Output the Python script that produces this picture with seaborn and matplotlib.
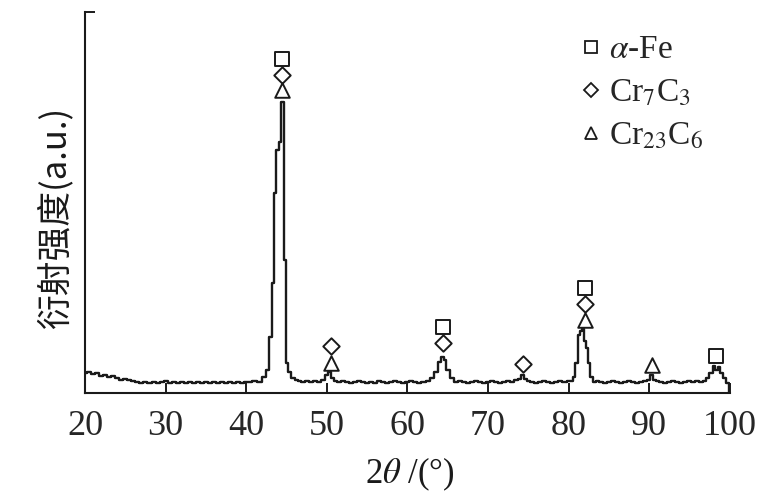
import matplotlib
matplotlib.use("Agg")
import matplotlib.pyplot as plt
import seaborn as sns
import pandas as pd
from matplotlib.lines import Line2D

# XRD pattern (arbitrary intensity units)
two_theta = [
    20.0, 20.5, 21.0, 21.5, 22.0, 22.5, 23.0, 23.5, 24.0, 24.5, 25.0, 25.5,
    26.0, 26.5, 27.0, 27.5, 28.0, 28.5, 29.0, 29.5, 30.0, 30.5, 31.0, 31.5,
    32.0, 32.5, 33.0, 33.5, 34.0, 34.5, 35.0, 35.5, 36.0, 36.5, 37.0, 37.5,
    38.0, 38.5, 39.0, 39.5, 40.0, 40.5, 41.0, 41.7, 42.3, 42.7, 43.0, 43.3,
    43.6, 43.9, 44.2, 44.5, 44.8, 45.0, 45.4, 45.8, 46.2, 46.6, 47.0, 47.5,
    48.0, 48.5, 49.0, 49.5, 50.0, 50.3, 50.7, 51.0, 51.5, 52.0, 52.5, 53.0,
    53.5, 54.0, 54.5, 55.0, 55.5, 56.0, 56.5, 57.0, 57.5, 58.0, 58.5, 59.0,
    59.5, 60.0, 60.5, 61.0, 61.5, 62.0, 62.5, 63.1, 63.6, 64.0, 64.4, 64.7,
    65.0, 65.5, 66.1, 66.5, 67.0, 67.5, 68.0, 68.5, 69.0, 69.5, 70.0, 70.5,
    71.0, 71.5, 72.0, 72.5, 73.0, 73.5, 74.0, 74.3, 74.7, 75.0, 75.5, 76.0,
    76.5, 77.0, 77.5, 78.0, 78.5, 79.0, 79.5, 80.0, 80.4, 80.7, 81.0, 81.3,
    81.6, 81.8, 82.1, 82.3, 82.5, 82.8, 83.2, 83.6, 84.0, 84.5, 85.0, 85.5,
    86.0, 86.5, 87.0, 87.5, 88.0, 88.5, 89.0, 89.5, 89.9, 90.3, 90.7, 91.0,
    91.5, 92.0, 92.5, 93.0, 93.5, 94.0, 94.5, 95.0, 95.5, 96.0, 96.5, 96.9,
    97.2, 97.7, 98.1, 98.3, 98.7, 99.0, 99.4, 99.8, 100.0,
]
intensity = [
    20, 21, 19, 20, 17, 18, 16, 17, 15, 13, 14, 13,
    12, 11, 10, 11, 10, 11, 10, 11, 12, 10, 11, 10,
    11, 10, 11, 10, 11, 10, 11, 10, 11, 10, 11, 10,
    11, 10, 11, 10, 11, 11, 12, 11, 16, 23, 56, 110,
    200, 243, 251, 291, 133, 30, 21, 15, 13, 12, 11, 12,
    11, 12, 11, 13, 18, 21, 15, 12, 11, 12, 11, 10,
    11, 12, 11, 10, 11, 10, 12, 11, 10, 11, 12, 11,
    10, 11, 12, 11, 10, 11, 12, 15, 21, 31, 36, 33,
    23, 15, 11, 12, 11, 10, 11, 12, 11, 10, 11, 12,
    11, 10, 11, 12, 11, 13, 14, 18, 14, 12, 11, 10,
    11, 12, 11, 10, 11, 12, 11, 12, 12, 16, 30, 58,
    62, 64, 52, 45, 30, 16, 11, 12, 11, 10, 11, 12,
    11, 10, 11, 12, 11, 10, 11, 12, 13, 18, 13, 12,
    11, 10, 11, 12, 11, 10, 11, 12, 11, 12, 11, 12,
    15, 20, 27, 23, 26, 20, 15, 10, 1,
]

# peak labels for each phase: position and label height
fe_pos = [44.4, 64.4, 82.0, 98.3]
fe_y = [334, 66, 105, 37]
cr7c3_pos = [44.4, 50.5, 64.4, 74.3, 82.0]
cr7c3_y = [318, 47, 50, 29, 89]
cr23c6_pos = [44.4, 50.5, 82.0, 90.4]
cr23c6_y = [303, 30, 73, 28]

phase_names = [r"$\alpha$-Fe", r"Cr$_{7}$C$_{3}$", r"Cr$_{23}$C$_{6}$"]
x_ticks = [20, 30, 40, 50, 60, 70, 80, 90, 100]

sns.set_theme(style="ticks")
plt.rcParams["font.family"] = ["Liberation Serif", "DejaVu Serif"]
plt.rcParams["mathtext.fontset"] = "stix"

fig = plt.figure(figsize=(7.73, 5.03), dpi=100)
ax = fig.add_axes([0.110, 0.219, 0.834, 0.757])

df = pd.DataFrame({"two_theta": two_theta, "intensity": intensity})
sns.lineplot(data=df, x="two_theta", y="intensity", ax=ax,
             color="#1a1a1a", linewidth=1.7, drawstyle="steps-mid")

marker_kw = dict(facecolor="white", edgecolor="#1a1a1a", linewidth=1.4,
                 zorder=5, ax=ax, legend=False)
sns.scatterplot(x=fe_pos, y=fe_y, marker="s", s=95, **marker_kw)
sns.scatterplot(x=cr7c3_pos, y=cr7c3_y, marker="D", s=70, **marker_kw)
sns.scatterplot(x=cr23c6_pos, y=cr23c6_y, marker="^", s=110, **marker_kw)

ax.set_xlim(20, 100)
ax.set_ylim(0, 381)
ax.set_xticks(x_ticks)
ax.set_xticklabels([str(t) for t in x_ticks], fontsize=26)
ax.set_yticks([381])
ax.set_yticklabels([])
ax.tick_params(axis="both", direction="in", length=7, width=1.4,
               color="#1a1a1a", pad=12)
for side in ["left", "bottom"]:
    ax.spines[side].set_linewidth(1.5)
    ax.spines[side].set_color("#1a1a1a")
sns.despine(ax=ax, top=True, right=True)

ax.set_xlabel(r"2$\theta$ /(°)", fontsize=25, color="#1a1a1a")
ax.xaxis.set_label_coords(0.504, -0.165)
ax.set_ylabel("衍射强度(a.u.)", fontsize=25, color="#1a1a1a",
              family=["Noto Sans CJK SC", "DejaVu Sans"])
ax.yaxis.set_label_coords(-0.018, 0.46)

handles = [
    Line2D([], [], linestyle="none", marker=m, markersize=ms,
           markerfacecolor="white", markeredgecolor="#1a1a1a",
           markeredgewidth=1.3)
    for m, ms in zip(["s", "D", "^"], [8.5, 7, 8.5])
]
ax.legend(handles, phase_names, loc="upper left",
          bbox_to_anchor=(0.772, 0.94), frameon=False, fontsize=24,
          handlelength=0.5, handletextpad=0.3, labelspacing=0.38,
          borderaxespad=0, borderpad=0)

fig.savefig("out.png", dpi=100)
